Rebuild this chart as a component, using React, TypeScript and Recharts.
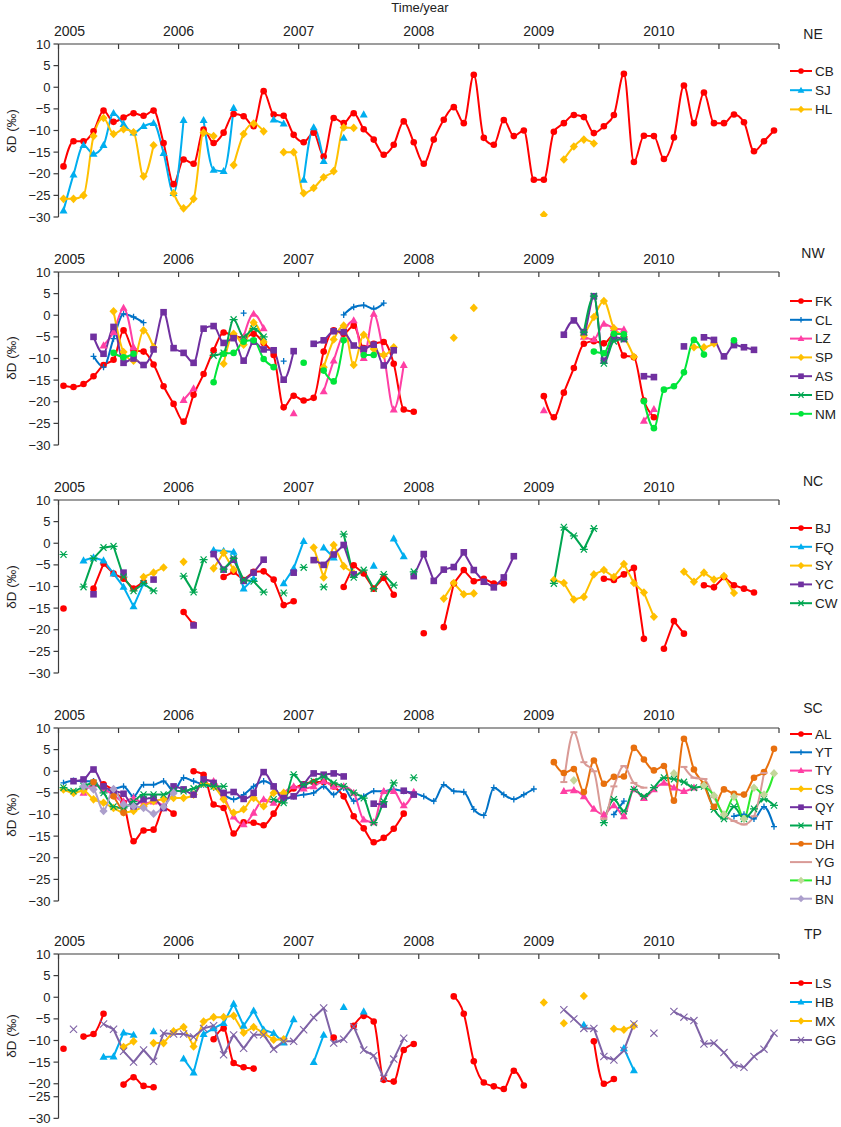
import React from 'react'
import { LineChart, Line, XAxis, YAxis } from 'recharts'

// month centres, Jan 2005 .. Dec 2010
const MONTHS = Array.from({ length: 72 }, (_, i) => 2005 + (i + 0.5) / 12)
const X_TICKS = [2005, 2005.5, 2006, 2006.5, 2007, 2007.5, 2008, 2008.5, 2009, 2009.5, 2010, 2010.5, 2011]
const Y_TICKS = [10, 5, 0, -5, -10, -15, -20, -25, -30]
// the TP panel is shorter and its two lowest labels are squeezed
const Y_TICKS_TP = [10, 5, 0, -5, -10, -15, -20, -23, -28]
const Y_LABELS_TP = ['10', '5', '0', '−5', '−10', '−15', '−20', '−25', '−30']

// [start month index, values]; a gap between segments is a missing month
type Seg = [number, (number | null)[]]

// ---- NE
const CB: Seg[] = [[0, [
  -18.3, -12.5, -12.5, -10.2, -5.4, -8, -7, -6, -6.6, -5.4,
  -12.9, -22.4, -16.7, -17.7, -9.8, -12.9, -10.5, -6.2, -6.7, -9,
  -0.9, -6.3, -6.6, -11, -12.7, -10.5, -16, -7.1, -8.3, -6,
  -9.7, -12.1, -15.6, -13.3, -7.9, -12.7, -17.7, -12.1, -7.5, -4.6,
  -8.3, 2.9, -11.7, -13.3, -7.6, -11.3, -10, -21.4, -21.4, -10.3,
  -8.3, -6.4, -6.9, -10.6, -9, -6.4, 3.1, -17.3, -11.2, -11.3,
  -16.6, -11.6, 0.4, -8.3, -1.2, -8.3, -8.3, -6.3, -8.1, -14.8,
  -12.5, -10,
]]]
const SJ: Seg[] = [
  [0, [-28.5, -20.2, -13.4, -15.4, -13.4, -6, -8.5, -10.5, -9, -8.3, -15.2, -24.5, -7.6]],
  [14, [-7.6, -19.1, -19.4, -4.8]],
  [21, [-7.5, -8.4]],
  [24, [-21.4, -9.3, -17.1]],
  [28, [-11.7]],
  [30, [-6.3]],
]
const HL: Seg[] = [
  [0, [-25.8, -25.8, -25, -11.3, -7.1, -10.8, -9.7, -10.4, -20.6, -13.4]],
  [11, [-24.5, -28, -25.8, -10.5, -11.3]],
  [17, [-18, -10.8, -8.4, -10.2]],
  [22, [-15, -15, -24.5, -23.3, -20.8, -19.4, -9.3, -9.4]],
  [48, [-29.5]],
  [50, [-16.7, -13.7, -12.1, -13]],
]

// ---- NW
const FK: Seg[] = [
  [0, [
    -16.3, -16.6, -15.9, -14.1, -11.5, -10.3, -3.5, -8.1, -8.4, -11.4,
    -16.4, -20.5, -24.6, -18.4, -13.6, -8.1, -4, -4.7, -5.3, -4.3,
    -6.4, -9.2, -21.3, -18.6, -19.7, -19.1, -8.4, -3.5, -4.3, -2.4,
    -7.6, -6.6, -6.2, -11.2, -21.8, -22.3,
  ]],
  [48, [-18.7, -23.6, -17.9, -12.2, -6.6, -6, -6.5, -4.5, -9.3, -9.7, -19.7, -23.6]],
]
const CL: Seg[] = [
  [3, [-9.5, -12, -5.4, 0.3, -0.4, -1.7]],
  [18, [0.5]],
  [22, [-10.6]],
  [28, [0.1, 1.9, 2.3, 1.5, 2.8]],
]
const LZ: Seg[] = [
  [4, [-7, -3.9, 1.7, -7.4]],
  [12, [-19.6, -16.9]],
  [18, [-5, 0.3, -3]],
  [23, [-22.7]],
  [26, [-17.6, -10.5, -3.9, -1.2, -9.9, 0.3, -9, -21.8, -11.5]],
  [48, [-22]],
  [52, [-5, -5.6, -2, -3, -3.3]],
  [58, [-24.4, -21.7]],
]
const SP: Seg[] = [
  [5, [0.9, -8.5, -10.5, -3.5, -7.4]],
  [16, [-11.2, -4.3, -6.8, -1.7, -6.2]],
  [26, [-12, -5.6, -2.4, -11.5, -4.5, -7.8, -9.2, -7.4]],
  [39, [-5.2]],
  [41, [1.7]],
  [52, [-4.7, -0.4, 3.3, -3, -5, -9.6]],
  [63, [-7.4, -7.4, -6.5]],
]
const AS: Seg[] = [
  [3, [
    -5, -8.9, -2.7, -11, -10, -11.5, -7.9, 0.7, -7.6, -8.7,
    -11, -3.1, -2.5, -6.4, -5.3, -10.5, -6.1, -7.9, -8.1, -14.9, -8.3,
  ]],
  [25, [-6.6, -5.8, -3.7, -3.9, -7, -7.8, -6.8, -11.6, -8.1]],
  [50, [-4.5, -1.2, -3.9, 4.4, -10.5, -5.1, -5.5]],
  [58, [-14.1, -14.3]],
  [62, [-7.2]],
  [64, [-5.1, -5.7, -9.5, -6.9, -7.4, -8]],
]
const ED: Seg[] = [
  [15, [-9.3, -8.7, -1, -5, -3.1, -5]],
  [52, [-3.9, 4.4, -11.1, -6, -5.5]],
]
const NM: Seg[] = [
  [5, [-8.7, -9.7, -8.9]],
  [15, [-15.5, -8.9, -8.7, -6.1, -5.8, -10.1, -12]],
  [24, [-11]],
  [26, [-12.8, -15.3, -5.8]],
  [30, [-9.2, -9.2]],
  [53, [-8.4, -8.8, -4.3, -4.4]],
  [58, [-19.9, -26.1, -17.2, -16.4, -13.2, -5.7, -9.1]],
  [67, [-5.8]],
]

// ---- NC
const BJ: Seg[] = [
  [0, [-15.1]],
  [3, [-10.5, -4.7, -7, -8.2, -10.5, -9]],
  [12, [-15.9, -18.8]],
  [16, [-7.8, -6.6, -8.5, -6.6, -6.5, -8.4, -14.3, -13.4]],
  [28, [-10.1, -5.1, -7, -10.5, -8, -11.9]],
  [36, [-20.8]],
  [38, [-19.4, -9.3, -6.2, -8.8, -8.2, -9.3, -9.3]],
  [54, [-8.2, -8.5, -7.2, -5.7, -22.1]],
  [60, [-24.4, -18, -20.9]],
  [64, [-9.7, -10.2, -7.8, -9.7, -10.5, -11.4]],
]
const FQ: Seg[] = [
  [2, [-4, -3.3, -4, -7, -10.1, -14.6, -9.3]],
  [15, [-1.6, -1.8, -2, -10.5, -8.2]],
  [22, [-9.3, -5.8, 0.5]],
  [26, [-1, -3.3]],
  [31, [-5.2]],
  [33, [1.1, -3]],
]
const SY: Seg[] = [
  [8, [-7.8, -6.8, -5.6]],
  [12, [-4.3]],
  [15, [-5.8, -2.2, -6.1]],
  [25, [-1, -7.9, -0.4, -5.3, -7]],
  [38, [-12.8, -9.2, -11.8, -11.6]],
  [49, [-8.5, -9.2, -13, -12.4, -7.2, -6.2, -7.8, -4.8, -9.2, -11.4, -17]],
  [62, [-6.6, -8.9, -6.8, -8.4, -7.6, -11.5]],
]
const YC: Seg[] = [
  [3, [-11.8]],
  [6, [-6.8]],
  [9, [-8.4]],
  [13, [-19]],
  [15, [-2.5, -6.1, -3.8, -8.7, -6.8, -3.8]],
  [23, [-6.8]],
  [25, [-3.9, -5, -2.6, -0.4, -7.2]],
  [35, [-7.6, -2.5, -8.7, -6.1, -5.5, -2.1, -6.2, -8.9, -10.2, -7.9, -3]],
]
const CW: Seg[] = [
  [0, [-2.6]],
  [2, [-10.1, -3.5, -1, -0.7, -7.8, -11, -9.3, -11]],
  [12, [-7.6, -11.3, -3.8]],
  [16, [-6, -3.5, -8.5, -8.8, -11.3]],
  [22, [-11.5]],
  [24, [-5.6]],
  [26, [-10.1]],
  [28, [2.1, -7.9, -6.2, -10.5, -7.2, -9.7]],
  [35, [-6.6]],
  [49, [-9.3, 3.7, 1.7, -1.4, 3.4]],
]

// ---- SC
const AL: Seg[] = [
  [4, [-3, -4.5, -7.3, -16.2, -13.7, -13.5, -8.5, -9.8]],
  [13, [
    0, -0.8, -7.7, -8.5, -14.4, -11.8, -11.9, -12.5, -9.8, -6,
    -4, -3, -2.5, -2.5, -3.5, -5.8, -10.4, -13.2, -16.4, -15.4, -13.3, -9.8,
  ]],
]
const YT: Seg[] = [
  [0, [
    -2.7, -2.2, -2.3, -2.3, -4.6, -4.2, -3.5, -5.8, -3.1, -3.1,
    -2.3, -4.6, -1.5, -2.3, -3.1, -3.8, -5.4, -6.5, -5.4, -3.5,
    -2.3, -3.5, -6.5, -5.8, -5.4, -5, -3.5, -5.4, -3.8, -6.9,
    -5.8, -4.6, -4.6, -4.2, -4.6, -5, -5.8, -6.9, -3.1, -4.6,
    -4.8, -8.8, -10.2, -3.8, -5.4, -6.5, -5.4, -4.1,
  ]],
  [55, [-10, -6.9]],
  [67, [-10.4, -10, -11, -8.2, -12.8]],
]
const TY: Seg[] = [
  [2, [-5, -3, -4, -5.5, -7, -6.2, -7.5, -7, -8]],
  [14, [-2, -2.3, -5.8, -10.5, -12.3, -9.6, -6.5, -7.3, -5]],
  [23, [-3.5, -4, -3.5, -2.3, -3.5, -3.5, -5, -11.2, -11.8, -4.6, -4.6, -7.9, -4.8]],
  [50, [-4.6, -4.4, -5.8, -8.7, -10, -7.9, -10.4, -4.2, -6.2, -4.2, -2.7, -3.8, -4.6, -3.8]],
]
const CS: Seg[] = [[0, [
  -4.2, -5, -4.5, -6.5, -7.3, -8.5, -9.5, -9.2, -8.1, -6.9,
  -6.5, -6.2, -6.2, -5.4, -2.7, -3.5, -6.5, -9.6, -8.8, -6.2,
  -8.1, -5, -5,
]]]
const QY: Seg[] = [
  [1, [
    -2.3, -1.9, 0.4, -3.5, -4.5, -5.2, -8.1, -6.5, -6.2, -8.5,
    -3.5, -4.2, -5.4, -1.9, -2.7, -5, -4.8, -6.4, -5, -0.2,
    -3.5, -6.2, -5.8, -3.1, -0.5, -0.8, -0.5, -1.2,
  ]],
  [31, [-7.5, -7.7]],
  [34, [-4.5, -5.4]],
]
const HT: Seg[] = [
  [0, [-3.8, -4.6, -3.5, -2.7, -5, -8.2, -8.5, -7, -5.4, -5.4, -5.4, -4.5, -4.6, -4, -3.1, -3.5, -3.5]],
  [21, [-6.5, -7.3, -0.8, -3.1, -2.3, -1.3, -2.7, -3.5, -5, -6.2, -11.9, -7, -2.7]],
  [35, [-1.5]],
  [54, [-11.9, -6.5, -9.2, -4.2, -5.8, -3.8, -1.5, -1.8, -2.5, -3.8, -3.5, -8.8, -11, -8.2, -11, -8.7, -6.4, -7.9]],
]
const DH: Seg[] = [
  [3, [-2.5]],
  [5, [-5.8, -9.6]],
  [49, [
    2.1, -0.4, 0.5, -4.8, 2.5, -2.9, -1.3, -1.2, 5.4, 2.7,
    0.2, 1.2, -6.8, 7.5, 0.4, -3.1, -8.2, -4.2, -5.2, -5.4,
    -1.5, -0.2, 5.2,
  ]],
]
const YG: Seg[] = [
  [50, [-2.5, 9, 2.1, 0, -11, -3.5, 1.2, -2.7, -3.8]],
  [62, [1, -1.5, -1.8, -6, -10, -11.5, -12.3, -10.4, -0.4]],
]
const HJ: Seg[] = [
  [51, [-2.1]],
  [61, [-0.5]],
  [64, [-3.3, -5.6, -10, -5.9, -11, -3.8, -5.4, -0.5]],
]
const BN: Seg[] = [[2, [-3.5, -4.2, -9.2, -4.1, -7.7, -8.1, -8.5, -9.8, -8.2, -5]]]

// ---- TP
const LS: Seg[] = [
  [0, [-11.9]],
  [2, [-9.1, -8.5, -3.8]],
  [6, [-20.2, -18.5, -20.5, -20.8]],
  [15, [-9.7, -7.2, -15.2, -16.2, -16.5]],
  [27, [-9.3]],
  [29, [-6.6, -4.3, -5.6, -19.1, -19.5, -12.2, -10.8]],
  [39, [0.2, -3.8, -14.8, -19.7, -20.6, -21.2, -17, -20.4]],
  [53, [-10.2, -20, -18.9]],
]
const HB: Seg[] = [
  [4, [-13.8, -13.7, -8.2, -8.7]],
  [9, [-7.9]],
  [12, [-14.2, -17.4, -8.5, -7.2, -6, -1.5, -6.6, -3.1, -7.5, -8.3, -10.5, -5.1]],
  [25, [-15, -8.7]],
  [28, [-2.3]],
  [30, [-3.3]],
  [52, [-6.4]],
  [56, [-11.8, -16.9]],
]
const MX: Seg[] = [
  [6, [-11.5, -10.2]],
  [9, [-10.6, -10.6, -7.9, -6.9, -11.4, -5.6, -4.6, -4.6, -4.3, -8.2, -6.9, -8.3, -9.8, -9.7]],
  [48, [-1.2]],
  [50, [-6]],
  [52, [0.3]],
  [55, [-7.3, -7.5, -6.6]],
]
const GG: Seg[] = [
  [1, [-7.4]],
  [4, [
    -6.2, -7.4, -12.5, -15, -12.2, -14.8, -8.3, -8.5, -8.5, -9.2,
    -7.2, -6.6, -13.3, -8.7, -11.8, -8.7, -8.7, -12, -10.2, -10.2,
    -7.5, -4.7, -2.5, -10.6, -9.7, -6.8, -12.2, -13.5, -18.7, -14.3, -9.5,
  ]],
  [50, [-2.9, -5, -7.2, -7.2, -13.7, -14.5, -12.3, -6.2]],
  [59, [-8.3]],
  [61, [-3.3, -4.6, -5.4, -10.8, -10.6, -12.8, -15.6, -16.2, -13.7, -12, -8.3]],
]

type Shape = 'circle' | 'triangle' | 'diamond' | 'square' | 'plus' | 'star' | 'cross' | 'dash'
interface Series {
  name: string
  segs: Seg[]
  color: string
  shape: Shape
  dotColor?: string
  curve?: 'monotone' | 'linear'
}

const RED = '#ff0000'
const SKY = '#00aeef'
const GOLD = '#ffc000'
const PINK = '#ff3fa4'
const PURPLE = '#7030a0'
const DKGREEN = '#00a651'
const GREEN = '#00e53a'
const BLUE = '#0072c6'

const NE: Series[] = [
  { name: 'CB', segs: CB, color: RED, shape: 'circle' },
  { name: 'SJ', segs: SJ, color: SKY, shape: 'triangle' },
  { name: 'HL', segs: HL, color: GOLD, shape: 'diamond' },
]
const NW: Series[] = [
  { name: 'FK', segs: FK, color: RED, shape: 'circle' },
  { name: 'CL', segs: CL, color: BLUE, shape: 'plus' },
  { name: 'LZ', segs: LZ, color: PINK, shape: 'triangle' },
  { name: 'SP', segs: SP, color: GOLD, shape: 'diamond' },
  { name: 'AS', segs: AS, color: PURPLE, shape: 'square' },
  { name: 'ED', segs: ED, color: DKGREEN, shape: 'star' },
  { name: 'NM', segs: NM, color: GREEN, shape: 'circle' },
]
const NC: Series[] = [
  { name: 'BJ', segs: BJ, color: RED, shape: 'circle', curve: 'linear' },
  { name: 'FQ', segs: FQ, color: SKY, shape: 'triangle', curve: 'linear' },
  { name: 'SY', segs: SY, color: GOLD, shape: 'diamond', curve: 'linear' },
  { name: 'YC', segs: YC, color: PURPLE, shape: 'square', curve: 'linear' },
  { name: 'CW', segs: CW, color: DKGREEN, shape: 'star', curve: 'linear' },
]
const SC: Series[] = [
  { name: 'AL', segs: AL, color: RED, shape: 'circle' },
  { name: 'YT', segs: YT, color: BLUE, shape: 'plus' },
  { name: 'TY', segs: TY, color: PINK, shape: 'triangle' },
  { name: 'CS', segs: CS, color: GOLD, shape: 'diamond' },
  { name: 'QY', segs: QY, color: PURPLE, shape: 'square' },
  { name: 'HT', segs: HT, color: DKGREEN, shape: 'star' },
  { name: 'DH', segs: DH, color: '#e8700e', shape: 'circle' },
  { name: 'YG', segs: YG, color: '#d99a96', shape: 'dash' },
  { name: 'HJ', segs: HJ, color: '#2eea2e', shape: 'diamond', dotColor: '#c3d69b' },
  { name: 'BN', segs: BN, color: '#ac9fcc', shape: 'diamond' },
]
const TP: Series[] = [
  { name: 'LS', segs: LS, color: RED, shape: 'circle' },
  { name: 'HB', segs: HB, color: SKY, shape: 'triangle', curve: 'linear' },
  { name: 'MX', segs: MX, color: GOLD, shape: 'diamond', curve: 'linear' },
  { name: 'GG', segs: GG, color: '#7f63a6', shape: 'cross', curve: 'linear' },
]

const valueAt = (segs: Seg[], i: number) => {
  for (const [start, vals] of segs) {
    if (i >= start && i < start + vals.length) return vals[i - start]
  }
  return null
}

const Marker = ({ shape, cx, cy, color, s = 1 }: { shape: Shape; cx: number; cy: number; color: string; s?: number }) => {
  switch (shape) {
    case 'circle':
      return <circle cx={cx} cy={cy} r={3.3 * s} fill={color} />
    case 'triangle':
      return <path d={`M${cx},${cy - 4.2 * s}L${cx + 4 * s},${cy + 2.9 * s}L${cx - 4 * s},${cy + 2.9 * s}Z`} fill={color} />
    case 'diamond':
      return <path d={`M${cx},${cy - 4.3 * s}L${cx + 4.1 * s},${cy}L${cx},${cy + 4.3 * s}L${cx - 4.1 * s},${cy}Z`} fill={color} />
    case 'square':
      return <rect x={cx - 3.3 * s} y={cy - 3.3 * s} width={6.6 * s} height={6.6 * s} fill={color} />
    case 'plus':
      return <path d={`M${cx - 3 * s},${cy}H${cx + 3 * s}M${cx},${cy - 3.2 * s}V${cy + 3.2 * s}`} stroke={color} strokeWidth={1.3} />
    case 'star':
      return (
        <path
          d={`M${cx - 4 * s},${cy}H${cx + 4 * s}M${cx - 3 * s},${cy - 3.3 * s}L${cx + 3 * s},${cy + 3.3 * s}M${cx + 3 * s},${cy - 3.3 * s}L${cx - 3 * s},${cy + 3.3 * s}`}
          stroke={color} strokeWidth={1.2} fill="none"
        />
      )
    case 'cross':
      return <path d={`M${cx - 3.6 * s},${cy - 3.6 * s}L${cx + 3.6 * s},${cy + 3.6 * s}M${cx + 3.6 * s},${cy - 3.6 * s}L${cx - 3.6 * s},${cy + 3.6 * s}`} stroke={color} strokeWidth={1.1} />
    case 'dash':
      return <path d={`M${cx - 3.5},${cy}H${cx + 3.5}`} stroke={color} strokeWidth={2} />
  }
}

const dotFor = (s: Series) => (props: any) => {
  const { cx, cy, value, index } = props
  const key = `${s.name}-${index}`
  if (value == null || cx == null || cy == null || Number.isNaN(cy)) return <g key={key} />
  return <g key={key}><Marker shape={s.shape} cx={cx} cy={cy} color={s.dotColor ?? s.color} /></g>
}

const FONT = '"Liberation Sans", Arial, Helvetica, sans-serif'
const AXIS = '#3c3c3c'
const PX_PER_UNIT = 4.325
const AXIS_H = 30
const BOTTOM = 12
const LEFT = 58.5
const RIGHT = 62

// year labels on the top axis; the first one sits a little right of its tick
const YearTick = (props: any) => {
  const { x, y, payload } = props
  const v = payload.value as number
  if (!Number.isInteger(v) || v >= 2011) return <g />
  return (
    <text x={x + (v === 2005 ? 11 : 0)} y={y - 1} textAnchor="middle" fontSize={14} fontFamily={FONT} fill="#222">
      {v}
    </text>
  )
}

interface PanelDef {
  region: string
  axisY: number
  labelY: number
  legendY: number
  legendGap: number
  domain: [number, number]
  yTicks: number[]
  yLabels?: string[]
  series: Series[]
}

const PANELS: PanelDef[] = [
  { region: 'NE', axisY: 44, labelY: 34, legendY: 71, legendGap: 19.2, domain: [-30, 10], yTicks: Y_TICKS, series: NE },
  { region: 'NW', axisY: 271.7, labelY: 253, legendY: 300.7, legendGap: 18.8, domain: [-30, 10], yTicks: Y_TICKS, series: NW },
  { region: 'NC', axisY: 500, labelY: 481, legendY: 528, legendGap: 18.8, domain: [-30, 10], yTicks: Y_TICKS, series: NC },
  { region: 'SC', axisY: 728.3, labelY: 708, legendY: 734, legendGap: 18.3, domain: [-30, 10], yTicks: Y_TICKS, series: SC },
  { region: 'TP', axisY: 954, labelY: 934, legendY: 983, legendGap: 19, domain: [-28, 10], yTicks: Y_TICKS_TP, yLabels: Y_LABELS_TP, series: TP },
]

const fmtY = (v: number) => (v < 0 ? `−${Math.abs(v)}` : String(v))

const Panel = ({ p }: { p: PanelDef }) => {
  const rows = MONTHS.map((x, i) => {
    const r: Record<string, number | null> = { x }
    p.series.forEach(s => { r[s.name] = valueAt(s.segs, i) })
    return r
  })
  const plotH = (p.domain[1] - p.domain[0]) * PX_PER_UNIT
  const yFmt = (v: number) => {
    if (p.yLabels) return p.yLabels[p.yTicks.indexOf(v)] ?? ''
    return fmtY(v)
  }
  return (
    <>
      <div style={{ position: 'absolute', left: 0, top: p.axisY - AXIS_H }}>
        <LineChart width={841} height={AXIS_H + plotH + BOTTOM} data={rows} margin={{ top: 0, right: RIGHT, bottom: BOTTOM, left: 0 }}>
          <XAxis
            dataKey="x" type="number" orientation="top" domain={[2005, 2011]} ticks={X_TICKS}
            allowDataOverflow height={AXIS_H} interval={0}
            tickSize={-5} tickMargin={12}
            stroke={AXIS} strokeWidth={1.2}
            tick={<YearTick />}
          />
          <YAxis
            type="number" domain={p.domain} ticks={p.yTicks} allowDataOverflow interval={0}
            width={LEFT} tickSize={5} tickMargin={3} tickFormatter={yFmt}
            stroke={AXIS} strokeWidth={1.2}
            tick={{ fill: '#222', fontSize: 13, fontFamily: FONT }}
          />
          {p.series.map(s => (
            <Line
              key={s.name} dataKey={s.name} type={s.curve ?? 'monotone'}
              stroke={s.color} strokeWidth={2} strokeLinejoin="round"
              dot={dotFor(s)} activeDot={false} connectNulls={false}
              isAnimationActive={false}
            />
          ))}
        </LineChart>
      </div>
      <div
        style={{
          position: 'absolute', left: 11, top: p.axisY + plotH / 2, transform: 'translate(-50%, -50%) rotate(-90deg)',
          fontFamily: FONT, fontSize: 13.5, color: '#222', whiteSpace: 'nowrap',
        }}
      >
        δD (‰)
      </div>
      <div
        style={{
          position: 'absolute', left: 813, top: p.labelY, transform: 'translate(-50%, -50%)',
          fontFamily: FONT, fontSize: 14, color: '#222',
        }}
      >
        {p.region}
      </div>
      <svg
        style={{ position: 'absolute', left: 785, top: p.legendY - 10 }}
        width={56} height={p.series.length * p.legendGap + 10}
      >
        {p.series.map((s, i) => {
          const cy = 10 + i * p.legendGap
          return (
            <g key={s.name}>
              <line x1={5} x2={27} y1={cy} y2={cy} stroke={s.color} strokeWidth={2} />
              {s.shape !== 'dash' && <Marker shape={s.shape} cx={16} cy={cy} color={s.dotColor ?? s.color} s={0.85} />}
              <text x={30} y={cy + 4.8} fontSize={13.5} fontFamily={FONT} fill="#222">{s.name}</text>
            </g>
          )
        })}
      </svg>
    </>
  )
}

export default function App() {
  return (
    <div style={{ position: 'absolute', left: 0, top: 0, width: 841, height: 1127, background: '#fff', overflow: 'hidden' }}>
      <div
        style={{
          position: 'absolute', left: 420, top: 6.5, transform: 'translate(-50%, -50%)',
          fontFamily: FONT, fontSize: 13, color: '#222', whiteSpace: 'nowrap',
        }}
      >
        Time/year
      </div>
      {PANELS.map(p => <Panel key={p.region} p={p} />)}
    </div>
  )
}
